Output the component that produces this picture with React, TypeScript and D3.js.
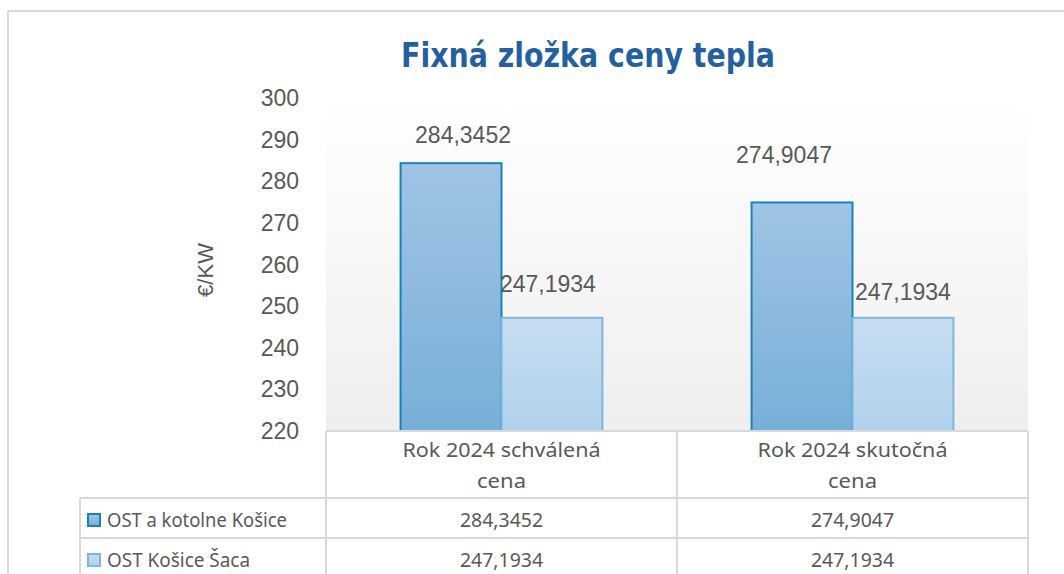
import React from "react";
import * as d3 from "d3";

const title = "Fixná zložka ceny tepla";
const categories = ["Rok 2024 schválená cena", "Rok 2024 skutočná cena"];
const categoryLines = [["Rok 2024 schválená", "cena"], ["Rok 2024 skutočná", "cena"]];
const seriesNames = ["OST a kotolne Košice", "OST Košice Šaca"];
const seriesA = [284.3452, 274.9047];
const seriesB = [247.1934, 247.1934];
const yTicks = [220, 230, 240, 250, 260, 270, 280, 290, 300];
const yLabel = "€/KW";

const fmt = (v: number) => v.toFixed(4).replace(".", ",");

export default function App() {
  const W = 1064, H = 574;
  const plotL = 326, plotR = 1028, plotT = 98, plotB = 431;
  const y = d3.scaleLinear().domain([220, 300]).range([plotB, plotT]);
  const x0 = d3.scaleBand<string>().domain(categories).range([plotL, plotR]).paddingInner(0.425).paddingOuter(0.2125);
  const x1 = d3.scaleBand<string>().domain(["a", "b"]).range([0, x0.bandwidth()]);
  const series = [
    { key: "a", values: seriesA, fill: "url(#gA)", stroke: "#1883b8" },
    { key: "b", values: seriesB, fill: "url(#gB)", stroke: "#7db6de" },
  ];
  // nudges for data labels (dx from bar centre, dy of label centre from bar top)
  const nudges = [[[12, -28], [-4, -34]], [[-18, -47], [0, -26]]];
  const tf = "'Liberation Sans', Arial, sans-serif";
  const tableFont = "'Noto Sans', 'Open Sans', sans-serif";
  const grid = "#d9d9d9";
  const rowTops = [431, 498, 538, 578];
  const colX = [80, 326, 677, 1028];
  const headerWidths = [[198, 49], [190, 49]];
  const legendWidths = [180, 143];

  return (
    <svg width={W} height={H} style={{ position: "absolute", left: 0, top: 0, background: "#fff" }}>
      <defs>
        <linearGradient id="gPlot" x1="0" y1="0" x2="0" y2="1">
          <stop offset="0" stopColor="#ffffff" />
          <stop offset="1" stopColor="#eeeeee" />
        </linearGradient>
        <linearGradient id="gA" x1="0" y1="0" x2="0" y2="1">
          <stop offset="0" stopColor="#9fc4e4" />
          <stop offset="1" stopColor="#78afd7" />
        </linearGradient>
        <linearGradient id="gB" x1="0" y1="0" x2="0" y2="1">
          <stop offset="0" stopColor="#c7ddf1" />
          <stop offset="1" stopColor="#b0d1ec" />
        </linearGradient>
      </defs>
      <line x1={8} y1={11} x2={W} y2={11} stroke={grid} strokeWidth={2} />
      <line x1={8} y1={11} x2={8} y2={H} stroke={grid} strokeWidth={2} />
      <text x={588} y={67} textAnchor="middle" fill="#24609f" fontWeight="bold" fontSize={34}
        fontFamily="'Liberation Sans Narrow', 'DejaVu Sans Condensed', 'Roboto Condensed', sans-serif"
        textLength={374} lengthAdjust="spacingAndGlyphs">{title}</text>
      <rect x={plotL} y={plotT} width={plotR - plotL} height={plotB - plotT} fill="url(#gPlot)" />
      {yTicks.map((t) => (
        <text key={t} x={299} y={y(t) + 8} textAnchor="end" fill="#595959" fontSize={23} fontFamily={tf}>{t}</text>
      ))}
      <text transform={`translate(213,270) rotate(-90)`} textAnchor="middle" fill="#595959" fontSize={22} fontFamily={tf}>{yLabel}</text>
      {categories.map((c, ci) =>
        series.map((s, si) => {
          const bx = (x0(c) as number) + (x1(s.key) as number);
          const bw = x1.bandwidth();
          const v = s.values[ci];
          const [dx, dy] = nudges[ci][si];
          return (
            <g key={c + s.key}>
              <rect x={bx} y={y(v)} width={bw} height={plotB - y(v)} fill={s.fill} stroke={s.stroke} strokeWidth={2} />
              <text x={bx + bw / 2 + dx} y={y(v) + dy + 8} textAnchor="middle" fill="#595959" fontSize={23} fontFamily={tf}>{fmt(v)}</text>
            </g>
          );
        })
      )}
      {/* data table */}
      <g stroke={grid} strokeWidth={2}>
        <line x1={colX[1]} y1={rowTops[0]} x2={colX[3]} y2={rowTops[0]} />
        <line x1={colX[0]} y1={rowTops[1]} x2={colX[3]} y2={rowTops[1]} />
        <line x1={colX[0]} y1={rowTops[2]} x2={colX[3]} y2={rowTops[2]} />
        <line x1={colX[0]} y1={rowTops[1]} x2={colX[0]} y2={H} />
        <line x1={colX[1]} y1={rowTops[0]} x2={colX[1]} y2={H} />
        <line x1={colX[2]} y1={rowTops[0]} x2={colX[2]} y2={H} />
        <line x1={colX[3]} y1={rowTops[0]} x2={colX[3]} y2={H} />
      </g>
      {categoryLines.map((lines, ci) => {
        const cx = (colX[ci + 1] + colX[ci + 2]) / 2;
        return lines.map((l, li) => (
          <text key={ci + "-" + li} x={cx} y={457 + li * 31} textAnchor="middle" fill="#595959" fontSize={20.5} fontFamily={tableFont}
            textLength={headerWidths[ci][li]} lengthAdjust="spacingAndGlyphs">{l}</text>
        ));
      })}
      {[seriesA, seriesB].map((vals, si) => (
        <g key={si}>
          <rect x={88} y={rowTops[si + 1] + 16} width={12} height={12}
            fill={si === 0 ? "url(#gA)" : "url(#gB)"} stroke={series[si].stroke} strokeWidth={2} />
          <text x={107} y={rowTops[si + 1] + 29} fill="#595959" fontSize={20.5} fontFamily={tableFont}
            textLength={legendWidths[si]} lengthAdjust="spacingAndGlyphs">{seriesNames[si]}</text>
          {vals.map((v, ci) => (
            <text key={ci} x={(colX[ci + 1] + colX[ci + 2]) / 2} y={rowTops[si + 1] + 29} textAnchor="middle" fill="#595959" fontSize={20} fontFamily={tableFont}
              textLength={83} lengthAdjust="spacingAndGlyphs">{fmt(v)}</text>
          ))}
        </g>
      ))}
    </svg>
  );
}
